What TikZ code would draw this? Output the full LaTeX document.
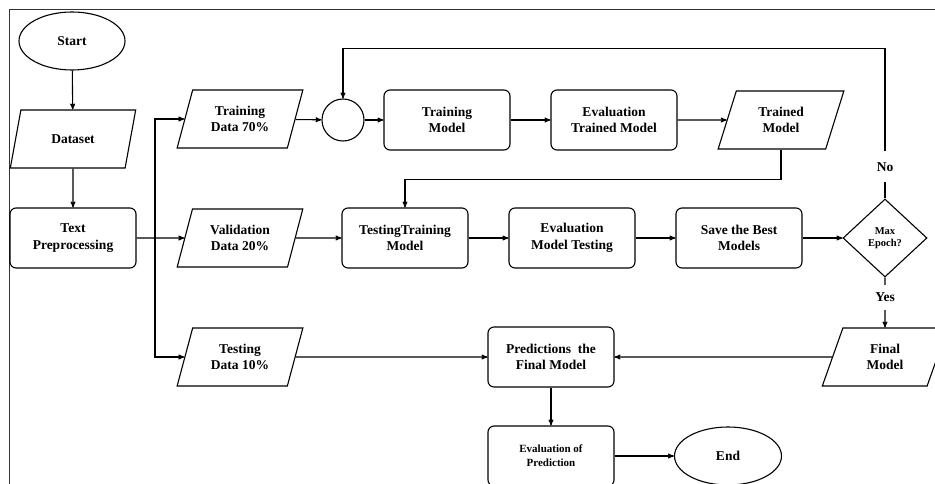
\documentclass[tikz,border=0pt]{standalone}
\usepackage{fontspec}
\setmainfont{Liberation Serif}
\usetikzlibrary{
        arrows,
        positioning,
        shapes,
        shapes.geometric
    }
\tikzset{>=stealth',auto,node distance=167pt}
\tikzset{
    txt/.style={font=\fontsize{13.5}{16.5}\selectfont\bfseries,align=center},
    proc/.style={txt,draw,rounded corners=6pt,minimum width=126pt,minimum height=60pt},
    data/.style={txt,draw,trapezium,trapezium left angle=72,trapezium right angle=108,
        trapezium stretches=true,minimum width=126pt,minimum height=58pt},
    term/.style={txt,draw,ellipse,minimum width=106pt,minimum height=58pt},
    decide/.style={draw,diamond,minimum width=84pt,minimum height=78pt,inner sep=0pt,
        align=center,font=\fontsize{10.5}{12.5}\selectfont\bfseries},
    joint/.style={draw,circle,minimum size=42pt,inner sep=0pt},
    lbl/.style={txt,auto=false,anchor=center,fill=white,inner xsep=2pt,inner ysep=10pt}
}

\begin{document}
\begin{tikzpicture}[x=1pt,y=-1pt,line width=1.1pt]
    \useasboundingbox (0,0) rectangle (935,484);
    \clip (0,0) rectangle (935,484);
    \draw[line width=0.8pt,black!80] (9,500) -- (9,9) -- (950,9);
    % left column
    \node[term] (st)  at (72,41)   {Start};
    \node[data] (ds)  at (73,139)  {Dataset};
    \node[proc] (tp)  at (73,238)  {Text\\Preprocessing};
    % split of the data
    \node[data] (trd) at (240,119) {Training\\Data 70\%};
    \node[data] (vad) at (240,238) {Validation\\Data 20\%};
    \node[data] (ted) at (240,357) {Testing\\Data 10\%};
    % training row
    \node[joint] (jn)  at (343,120) {};
    \node[proc] (trm) at (447,120) {Training\\Model};
    \node[proc] (etm) [right of=trm] {Evaluation\\Trained Model};
    \node[data] (tm)  [right of=etm] {Trained\\Model};
    % validation row
    \node[proc] (ttm) at (405,238) {TestingTraining\\Model};
    \node[proc] (emt) [right of=ttm] {Evaluation\\Model Testing};
    \node[proc] (sbm) [right of=emt] {Save the Best\\Models};
    \node[decide] (me) at (885,238) {Max\\Epoch?};
    % testing row
    \node[data] (fm)  at (885,357) {Final\\Model};
    \node[proc] (pfm) at (551,357) {Predictions\ \ the\\Final Model};
    \node[proc,font=\fontsize{11}{14}\selectfont\bfseries] (ep) at (551,456) {Evaluation of\\Prediction};
    \node[term,minimum width=107pt] (en) at (728,456) {End};

    \coordinate (sp) at (155,238);
    \path[->]
        (st)  edge (ds)
        (ds)  edge (tp)
        (tp)  edge (vad)
        (trd) edge (jn)
        (jn)  edge (trm)
        (trm) edge (etm)
        (etm) edge (tm)
        (vad) edge (ttm)
        (ttm) edge (emt)
        (emt) edge (sbm)
        (sbm) edge (me)
        (ted) edge (pfm)
        (fm)  edge (pfm)
        (pfm) edge (ep)
        (ep)  edge (en)
    ;
    \draw[->] (sp) |- (trd);
    \draw[->] (sp) |- (ted);
    \draw[->] (tm.south) -- ++(0,30) -| (ttm.north);
    \draw[->] (me.north) -- node[lbl,pos=0.21,inner ysep=11pt] {No} ++(0,-150) -| (jn.north);
    \draw[->] (me.south) -- node[lbl,pos=0.4,inner ysep=8pt] {Yes} (fm.north);
\end{tikzpicture}
\end{document}
